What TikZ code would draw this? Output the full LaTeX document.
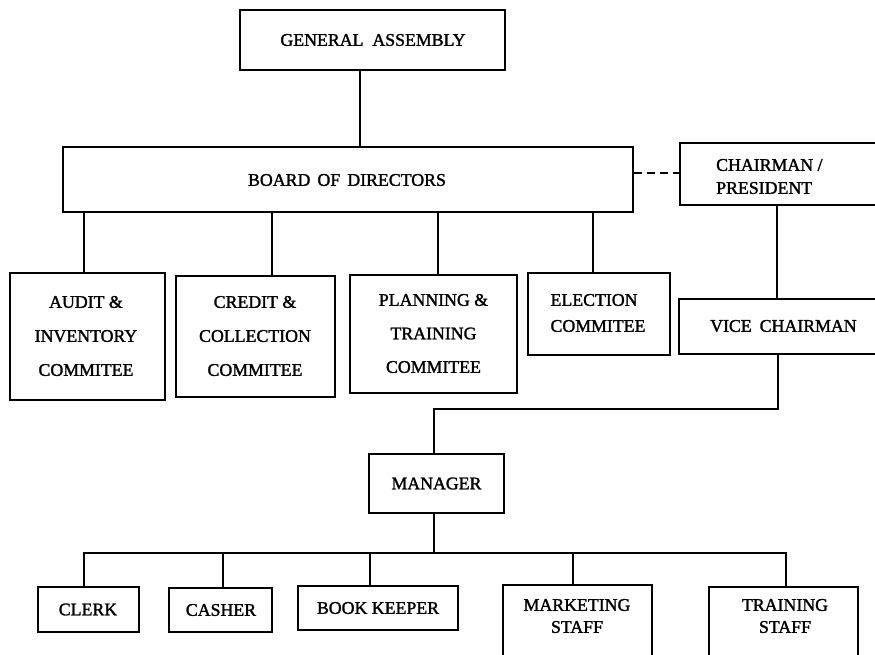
\documentclass[tikz,border=0pt]{standalone}
\usepackage{fontspec}
\setmainfont{Liberation Serif}[BoldFont={Liberation Serif},
  BoldFeatures={FakeBold=1.6}]
\newcommand{\inkfont}[2]{\fontsize{#1}{#2}\selectfont\bfseries}
\begin{document}
\begin{tikzpicture}[x=1pt,y=-1pt,
  box/.style={draw, line width=2.6pt, inner sep=0pt},
  txt/.style={inner sep=0pt, align=center, font=\inkfont{17.8}{20}},
  txt22/.style={txt, font=\inkfont{17.8}{22}},
  txt23/.style={txt, font=\inkfont{17.8}{23}},
  txt26/.style={txt, font=\inkfont{17.8}{26}},
  txt34/.style={txt, font=\inkfont{17.8}{34}},
  wire/.style={line width=2.6pt},
  dashwire/.style={line width=2.6pt, dash pattern=on 8pt off 5pt}]
\clip (0,0) rectangle (875,654);
\fill[white] (0,0) rectangle (875,654);

% boxes: top of the hierarchy
\node[box, minimum width=265, minimum height=60] (ga) at (372.5,40) {};
\node[box, minimum width=570, minimum height=65] (bod) at (348,179.5) {};
\node[box, minimum width=250, minimum height=62] (chair) at (805,174) {};

% boxes: committees
\node[box, minimum width=155, minimum height=127] (audit) at (87.5,336.5) {};
\node[box, minimum width=159, minimum height=121] (credit) at (255.5,336.5) {};
\node[box, minimum width=167, minimum height=118] (plan) at (433.5,334) {};
\node[box, minimum width=142, minimum height=82] (elect) at (599,314) {};
\node[box, minimum width=250, minimum height=55] (vc) at (804,326.5) {};

% boxes: management and staff
\node[box, minimum width=135, minimum height=59] (mgr) at (436.5,483.5) {};
\node[box, minimum width=101, minimum height=45] (clerk) at (88.5,609.5) {};
\node[box, minimum width=103, minimum height=44] (cash) at (220.5,610) {};
\node[box, minimum width=160, minimum height=44] (book) at (378,608) {};
\node[box, minimum width=149, minimum height=100] (mkt) at (577.5,635) {};
\node[box, minimum width=149, minimum height=100] (train) at (783.5,637) {};

% connector positions
\coordinate (gaX) at (360,0);
\coordinate (dashY) at (0,173);
\coordinate (cvX) at (777,0);
\coordinate (d-audit) at (84,0);
\coordinate (d-credit) at (272,0);
\coordinate (d-plan) at (438,0);
\coordinate (d-elect) at (593,0);
\coordinate (vmX) at (778,0);
\coordinate (elbow) at (434,409);
\coordinate (bus) at (434,553);
\coordinate (d-clerk) at (84,0);
\coordinate (d-cash) at (223,0);
\coordinate (d-book) at (370,0);
\coordinate (d-mkt) at (573,0);
\coordinate (d-train) at (786,0);

% connectors
\draw[wire] (ga.south -| gaX) -- (bod.north -| gaX);
\draw[dashwire] (bod.east |- dashY) -- (chair.west |- dashY);
\draw[wire] (chair.south -| cvX) -- (vc.north -| cvX);
\foreach \c in {audit,credit,plan,elect}
  \draw[wire] (bod.south -| d-\c) -- (\c.north -| d-\c);
\draw[wire] (vc.south -| vmX) |- (elbow) -- (mgr.north -| elbow);
\draw[wire] (mgr.south -| bus) -- (bus);
\draw[wire] (clerk.north -| d-clerk) |- (bus) -| (train.north -| d-train);
\foreach \c in {cash,book,mkt}
  \draw[wire] (\c.north -| d-\c) -- (d-\c |- bus);

% box texts
\node[txt] (gaT) at (373,40) {GENERAL\hspace{0.5em}ASSEMBLY};
\node[txt] (bodT) at (347,180) {BOARD\hspace{0.4em}OF\hspace{0.4em}DIRECTORS};
\node[txt23, align=left, anchor=west] (chairT) at (716,176.5) {CHAIRMAN /\\PRESIDENT};
\node[txt34] (auditT) at (86,336) {AUDIT \&\\INVENTORY\\COMMITEE};
\node[txt34] (creditT) at (255,336) {CREDIT \&\\COLLECTION\\COMMITEE};
\node[txt, font=\inkfont{17.8}{33.5}] (planT) at (433.5,333.5) {PLANNING \&\\TRAINING\\COMMITEE};
\node[txt26, align=left] (electT) at (598,313) {ELECTION\\COMMITEE};
\node[txt, anchor=west] (vcT) at (710,326) {VICE\hspace{0.45em}CHAIRMAN};
\node[txt] (mgrT) at (436.5,483.5) {MANAGER};
\node[txt] (clerkT) at (88,609.5) {CLERK};
\node[txt] (cashT) at (221,610) {CASHER};
\node[txt] (bookT) at (378,608) {BOOK KEEPER};
\node[txt22] (mktT) at (577,616) {MARKETING\\STAFF};
\node[txt22] (trainT) at (785,616) {TRAINING\\STAFF};
\end{tikzpicture}
\end{document}
